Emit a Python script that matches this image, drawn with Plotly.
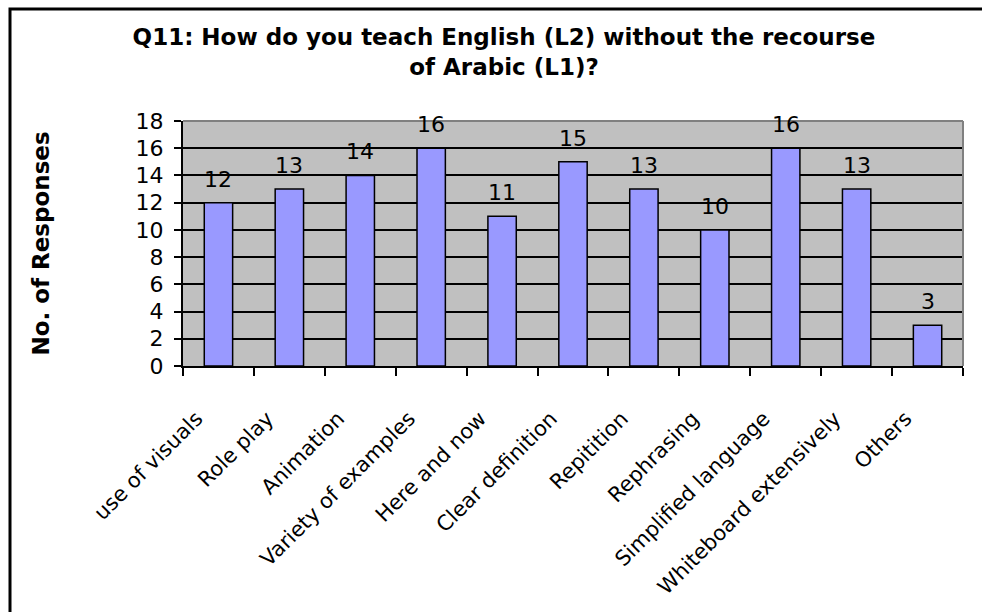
import plotly.graph_objects as go

categories = ["use of visuals", "Role play", "Animation", "Variety of examples",
              "Here and now", "Clear definition", "Repitition", "Rephrasing",
              "Simplified language", "Whiteboard extensively", "Others"]
responses = [12, 13, 14, 16, 11, 15, 13, 10, 16, 13, 3]
y_ticks = [0, 2, 4, 6, 8, 10, 12, 14, 16, 18]

title_text = "Q11: How do you teach English (L2) without the recourse<br>of Arabic (L1)?"
y_title = "No. of Responses"

FONT = "DejaVu Sans"

W, H = 982, 612
L, R, T, B = 183, 19, 121, 246
pw, ph = W - L - R, H - T - B

def px_x(x):
    return (x - L) / pw

def px_y(y):
    return (H - B - y) / ph

fig = go.Figure()
fig.add_trace(go.Bar(
    x=categories, y=responses,
    marker=dict(color="#9999FF", line=dict(color="black", width=1.5)),
    width=0.4,
    hoverinfo="x+y",
))

# value labels above the bars
label_annotations = [
    dict(x=c, y=v, xref="x", yref="y", text=str(v), showarrow=False,
         yanchor="bottom", yshift=9,
         font=dict(family=FONT, size=22, color="black"))
    for c, v in zip(categories, responses)
]

fig.update_layout(
    width=W, height=H,
    margin=dict(l=L, r=R, t=T, b=B),
    paper_bgcolor="white",
    plot_bgcolor="#C0C0C0",
    showlegend=False,
    bargap=0.6,
    title=dict(text=title_text, x=504 / W, xanchor="center",
               y=1 - 45 / H, yanchor="top",
               font=dict(family=FONT, size=23, color="black", weight="bold")),
    font=dict(family=FONT, color="black"),
    annotations=label_annotations,
    shapes=[
        # outer chart border (left and top visible)
        dict(type="rect", xref="paper", yref="paper",
             x0=px_x(10), x1=px_x(1000), y0=px_y(640), y1=px_y(9),
             line=dict(color="black", width=3), fillcolor="rgba(0,0,0,0)", layer="above"),
        # plot-area top and right edges in grey
        dict(type="line", xref="paper", yref="paper", x0=0, x1=1, y0=1, y1=1,
             line=dict(color="#808080", width=2), layer="above"),
        dict(type="line", xref="paper", yref="paper", x0=1, x1=1, y0=0, y1=1,
             line=dict(color="#808080", width=2), layer="above"),
    ],
)

fig.update_xaxes(
    type="category",
    tickangle=-45,
    tickfont=dict(family=FONT, size=21, color="black"),
    ticks="outside", ticklen=8, tickwidth=1.5, tickcolor="black",
    tickson="boundaries",
    showline=True, linecolor="black", linewidth=2,
    showgrid=False,
    ticklabelstandoff=30,
    ticklabelshift=-22,
    range=[-0.5, len(categories) - 0.5],
)

fig.update_yaxes(
    range=[0, 18],
    tickvals=y_ticks,
    ticktext=[str(v) for v in y_ticks],
    tickfont=dict(family=FONT, size=22, color="black"),
    ticks="outside", ticklen=7, tickwidth=1.5, tickcolor="black",
    showline=True, linecolor="black", linewidth=2,
    showgrid=True, gridcolor="black", gridwidth=1.5,
    zeroline=False,
    ticklabelstandoff=6,
    title=dict(text=y_title, standoff=80,
               font=dict(family=FONT, size=23, color="black", weight="bold")),
)

fig.write_html("out.html", config={"displayModeBar": False},
               post_script="document.body.style.margin='0';")
